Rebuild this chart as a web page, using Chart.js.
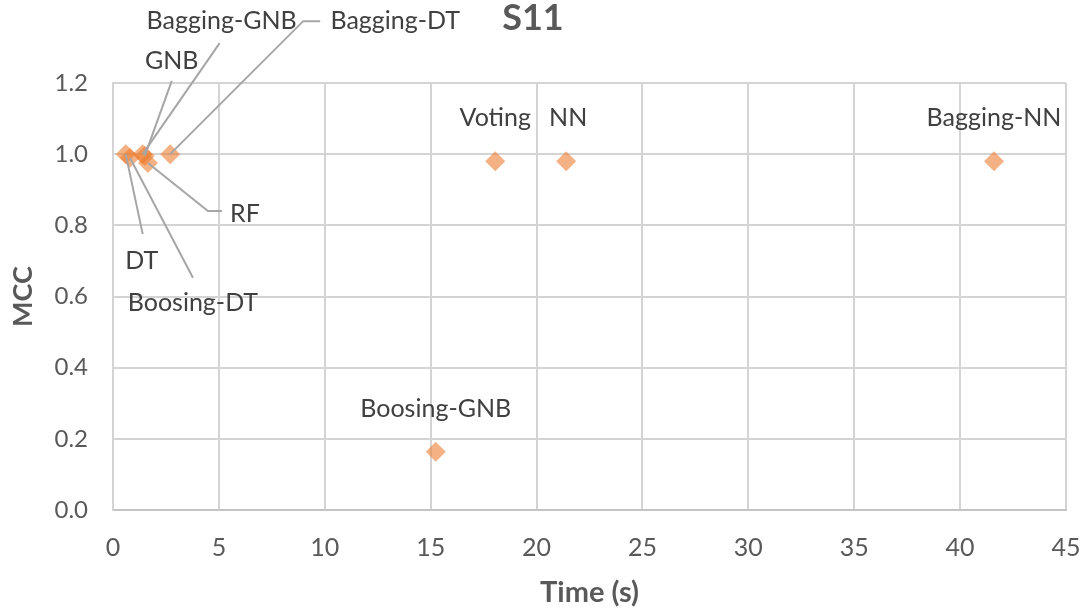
<!DOCTYPE html>
<html>
<head>
<meta charset="utf-8">
<script src="https://cdn.jsdelivr.net/npm/chart.js@4.4.1/dist/chart.umd.min.js"></script>
<style>
  html, body { margin: 0; padding: 0; background: #ffffff; }
  #wrap { width: 1090px; height: 613px; position: relative; }
</style>
</head>
<body>
<div id="wrap"><canvas id="chart" width="1090" height="613"></canvas></div>
<script>
// Classifier names, run time in seconds and MCC score
const models = ['DT', 'Boosing-DT', 'GNB', 'Bagging-GNB', 'RF', 'Bagging-DT',
                'Boosing-GNB', 'Voting', 'NN', 'Bagging-NN'];
const timeSeconds = [0.6, 0.8, 1.5, 1.4, 1.65, 2.7, 15.24, 18.05, 21.4, 41.6];
const mccScores  = [1.0, 0.99, 0.995, 1.0, 0.975, 1.0, 0.164, 0.98, 0.98, 0.98];

const xTicks = [0, 5, 10, 15, 20, 25, 30, 35, 40, 45];
const yTicks = [0.0, 0.2, 0.4, 0.6, 0.8, 1.0, 1.2];

// Label placement in pixels relative to each marker: text centre, plus an optional leader path
const labelPlacement = {
  'DT':          { dx: 16,  dy: 107, leader: [[17, 80]] },
  'Boosing-DT':  { dx: 63,  dy: 145, leader: [[63, 120]] },
  'GNB':         { dx: 27,  dy: -95, leader: [[27, -75]] },
  'Bagging-GNB': { dx: 79,  dy: -133, leader: [[77, -111]] },
  'RF':          { dx: 97,  dy: 51,  leader: [[60, 48], [74, 48]] },
  'Bagging-DT':  { dx: 225, dy: -133, leader: [[133, -133], [150, -133]] },
  'Boosing-GNB': { dx: 0,   dy: -43 },
  'Voting':      { dx: 0,   dy: -43 },
  'NN':          { dx: 2,   dy: -43 },
  'Bagging-NN':  { dx: 0,   dy: -43 }
};

const FONT = "Lato, 'Open Sans', 'DejaVu Sans', sans-serif";
const TEXT = '#595959';
const GRID = '#d4d4d4';

const points = timeSeconds.map((t, i) => ({ x: t, y: mccScores[i] }));

const pointLabels = {
  id: 'pointLabels',
  afterDatasetsDraw(chart) {
    const ctx = chart.ctx;
    const meta = chart.getDatasetMeta(0);
    ctx.save();
    ctx.font = "25px " + FONT;
    ctx.textAlign = 'center';
    ctx.textBaseline = 'middle';
    meta.data.forEach((el, i) => {
      const p = labelPlacement[models[i]];
      const x = el.x, y = el.y;
      if (p.leader) {
        ctx.strokeStyle = '#a6a6a6';
        ctx.lineWidth = 2;
        ctx.beginPath();
        ctx.moveTo(x, y);
        p.leader.forEach(([lx, ly]) => ctx.lineTo(x + lx, y + ly));
        ctx.stroke();
      }
      ctx.fillStyle = '#404040';
      ctx.fillText(models[i], x + p.dx, y + p.dy);
    });
    ctx.restore();
  }
};

new Chart(document.getElementById('chart'), {
  type: 'scatter',
  data: {
    datasets: [{
      label: 'S11',
      data: points,
      pointStyle: 'rectRot',
      pointRadius: 10,
      pointHoverRadius: 10,
      backgroundColor: 'rgba(237,125,49,0.6)',
      borderWidth: 0
    }]
  },
  options: {
    responsive: false,
    animation: false,
    layout: { padding: { left: 0, right: 24, top: 0, bottom: 0 } },
    plugins: {
      legend: { display: false },
      tooltip: { enabled: false },
      title: {
        display: true,
        text: 'S11',
        color: TEXT,
        font: { family: FONT, size: 36, weight: 'bold', lineHeight: 1.0 },
        padding: { top: 0, bottom: 47 }
      }
    },
    scales: {
      x: {
        type: 'linear',
        min: 0, max: 45,
        afterBuildTicks(scale) { scale.ticks = xTicks.map(v => ({ value: v })); },
        afterFit(scale) { scale.height = 103; scale.paddingLeft = 0; scale.paddingRight = 0; },
        ticks: {
          color: TEXT,
          font: { family: FONT, size: 25 },
          padding: 23,
          maxRotation: 0,
          callback: v => String(v)
        },
        grid: { color: GRID, lineWidth: 2, drawTicks: false },
        border: { color: '#c4c4c4', width: 2 },
        title: {
          display: true,
          text: 'Time (s)',
          color: TEXT,
          font: { family: FONT, size: 29, weight: 'bold' },
          padding: { top: 0, bottom: 3 }
        }
      },
      y: {
        type: 'linear',
        min: 0, max: 1.2,
        afterBuildTicks(scale) { scale.ticks = yTicks.map(v => ({ value: v })); },
        afterFit(scale) { scale.width = 113; scale.paddingTop = 0; scale.paddingBottom = 0; },
        ticks: {
          color: TEXT,
          font: { family: FONT, size: 24 },
          padding: 25,
          callback: v => Number(v).toFixed(1)
        },
        grid: { color: GRID, lineWidth: 2, drawTicks: false },
        border: { color: GRID, width: 2 },
        title: {
          display: true,
          text: 'MCC',
          color: TEXT,
          font: { family: FONT, size: 27, weight: 'bold' },
          padding: { top: 7, bottom: 0 }
        }
      }
    }
  },
  plugins: [pointLabels]
});
</script>
</body>
</html>
